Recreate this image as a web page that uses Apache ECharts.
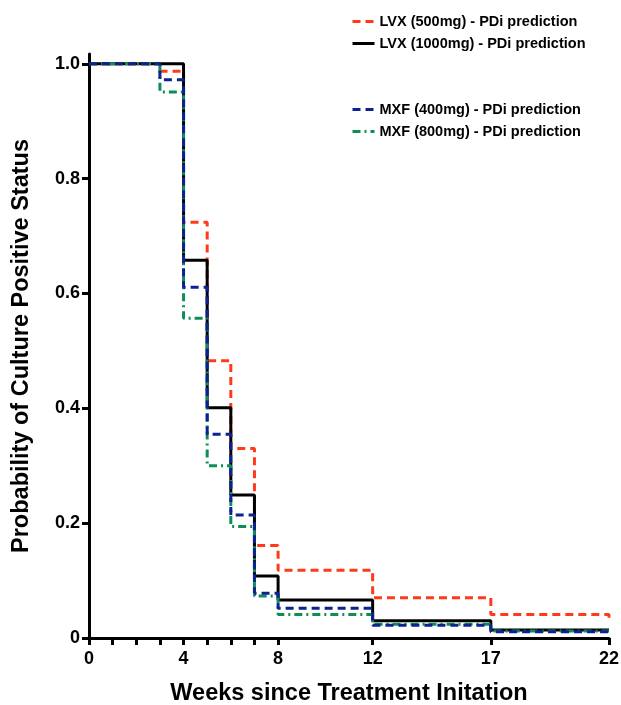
<!DOCTYPE html>
<html><head><meta charset="utf-8">
<script src="https://cdn.jsdelivr.net/npm/echarts@6/dist/echarts.min.js"></script>
<style>html,body{margin:0;padding:0;background:#fff}#c{width:621px;height:705px}</style>
</head><body><div id="c"></div>
<script>
const weeks500 = [0, 3, 4, 5, 6, 7, 8, 12, 17, 22];
const lvx500  = [1.0, 0.987, 0.724, 0.483, 0.330, 0.161, 0.118, 0.070, 0.041, 0.028];
const weeksStd = [0, 4, 5, 6, 7, 8, 12, 17, 22];
const lvx1000 = [1.0, 0.658, 0.401, 0.249, 0.108, 0.066, 0.030, 0.014, 0.014];
const weeksMxf = [0, 3, 4, 5, 6, 7, 8, 12, 17, 22];
const mxf400  = [1.0, 0.972, 0.611, 0.355, 0.214, 0.078, 0.052, 0.022, 0.011, 0.011];
const mxf800  = [1.0, 0.951, 0.557, 0.300, 0.194, 0.073, 0.041, 0.024, 0.012, 0.012];
const xTicks = [0, 1, 2, 3, 4, 5, 6, 7, 8, 12, 17, 22];
const xLabels = [0, 4, 8, 12, 17, 22];
const yLabels = [0, 0.2, 0.4, 0.6, 0.8, 1.0];
const names = ['LVX (500mg) - PDi prediction','LVX (1000mg) - PDi prediction','MXF (400mg) - PDi prediction','MXF (800mg) - PDi prediction'];

const zip = (xs, ys) => xs.map((x, i) => [x, ys[i]]);
const font = 'Liberation Sans, Arial, sans-serif';
const chart = echarts.init(document.getElementById('c'), null, {renderer:'canvas'});
const mk = (name, data, color, type, z) => ({
  name, type:'line', step:'end', data, showSymbol:false, symbol:'none', z,
  lineStyle:{color, width:3, type}, itemStyle:{color}, animation:false
});
const legendCommon = {
  orient:'vertical', left:346, itemWidth:22, itemHeight:12, itemGap:7,
  itemStyle:{opacity:0}, lineStyle:{width:3},
  textStyle:{fontFamily:font, fontWeight:'bold', fontSize:14.5, color:'#000'},
  selectedMode:false
};
chart.setOption({
  animation:false,
  grid:{left:89, right:12, top:54, bottom:67, containLabel:false, outerBoundsMode:'none'},
  legend:[
    Object.assign({}, legendCommon, {top:9, data:[names[0], names[1]]}),
    Object.assign({}, legendCommon, {top:97, data:[names[2], names[3]]})
  ],
  xAxis:{
    type:'value', min:0, max:22,
    name:'Weeks since Treatment Initation', nameLocation:'middle', nameGap:44,
    nameTextStyle:{fontFamily:font, fontWeight:'bold', fontSize:23.5, color:'#000'},
    axisLine:{show:true, lineStyle:{color:'#000', width:3}},
    axisTick:{show:true, length:7, inside:false, lineStyle:{color:'#000', width:3}, customValues:xTicks},
    axisLabel:{fontFamily:font, fontWeight:'bold', fontSize:18, color:'#000', margin:12, customValues:xLabels},
    splitLine:{show:false}
  },
  yAxis:{
    type:'value', min:0, max:1.017,
    name:'Probability of Culture Positive Status', nameLocation:'middle', nameGap:55, nameRotate:90,
    nameTextStyle:{fontFamily:font, fontWeight:'bold', fontSize:23.5, color:'#000'},
    axisLine:{show:true, lineStyle:{color:'#000', width:3}},
    axisTick:{show:true, length:7, lineStyle:{color:'#000', width:3}, customValues:yLabels},
    axisLabel:{fontFamily:font, fontWeight:'bold', fontSize:18, color:'#000', margin:9, customValues:yLabels,
      formatter:v => v === 0 ? '0' : v.toFixed(1)},
    splitLine:{show:false}
  },
  series:[
    mk(names[0], zip(weeks500, lvx500), '#ff3a1a', [8,5], 1),
    mk(names[1], zip(weeksStd, lvx1000), '#000000', 'solid', 2),
    mk(names[3], zip(weeksMxf, mxf800), '#0f8d56', [8,4,2,4], 3),
    mk(names[2], zip(weeksMxf, mxf400), '#0c2192', [8,5], 4)
  ]
});
</script></body></html>
